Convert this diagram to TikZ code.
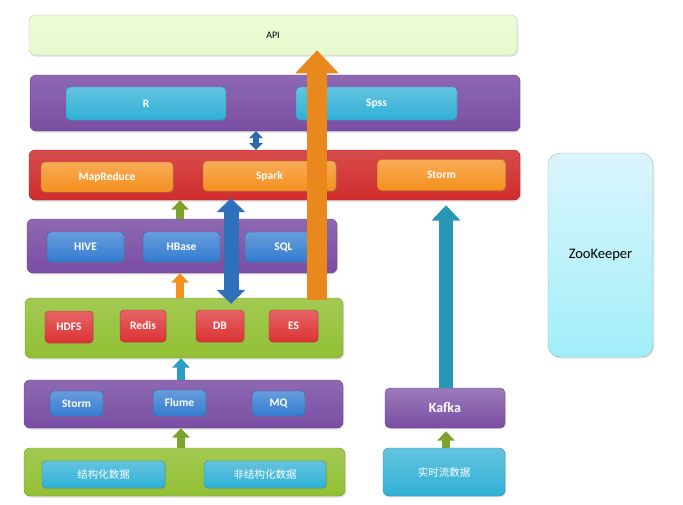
\documentclass[tikz,border=0pt]{standalone}
\usepackage{fontspec}
\setmainfont{Carlito}
\newfontfamily\cjk{Noto Sans CJK SC}
\usetikzlibrary{arrows.meta, shadows}
\definecolor{layerpurple}{RGB}{122, 78, 164}
\definecolor{layerred}{RGB}{208, 44, 44}
\definecolor{layergreen}{RGB}{146, 192, 52}
\definecolor{apigreen}{RGB}{232, 250, 206}
\definecolor{itemcyan}{RGB}{48, 176, 214}
\definecolor{itemorange}{RGB}{245, 144, 30}
\definecolor{itemblue}{RGB}{52, 124, 208}
\definecolor{itemred}{RGB}{220, 50, 50}
\definecolor{zkcyan}{RGB}{190, 236, 248}

\begin{document}
\begin{tikzpicture}[
    x=1pt, y=-1pt,
    layer/.style={rectangle, rounded corners=6pt, draw=#1!80!black, top color=#1!85!white, bottom color=#1, inner sep=0pt, drop shadow={opacity=0.25, shadow xshift=1pt, shadow yshift=-1.5pt}},
    item/.style={rectangle, rounded corners=4pt, draw=#1!80!black, top color=#1!75!white, bottom color=#1, inner sep=0pt, text=white, font=\bfseries\fontsize{11.5}{13}\selectfont, drop shadow={opacity=0.3, shadow xshift=1pt, shadow yshift=-1pt}},
    bigarrow/.style={line width=#1, draw},
    tipone/.style={-{Triangle[width=#1, length=0.55*#1]}},
]
    \useasboundingbox (0,0) rectangle (683,504);

    % layers
    \node[layer=apigreen, draw=apigreen!60!gray, minimum width=488pt, minimum height=40pt, font=\fontsize{10}{12}\selectfont] (api) at (273,35) {API};
    \node[layer=layerpurple, minimum width=490pt, minimum height=56pt] (analysis) at (275,103) {};
    \node[layer=layerred, minimum width=491pt, minimum height=50pt] (compute) at (274.5,175) {};
    \node[layer=layerpurple, minimum width=310pt, minimum height=54pt] (query) at (182,246) {};
    \node[layer=layergreen, minimum width=318pt, minimum height=60pt] (storage) at (184,328) {};
    \node[layer=layerpurple, minimum width=319pt, minimum height=48pt] (collect) at (183.5,404) {};
    \node[layer=layergreen, minimum width=321pt, minimum height=48pt] (source) at (184.5,472) {};
    \node[item=layerpurple, rounded corners=5pt, minimum width=120pt, minimum height=40pt, font=\bfseries\fontsize{14}{16}\selectfont] (kafka) at (445,408) {Kafka};
    \node[item=itemcyan, rounded corners=6pt, minimum width=122pt, minimum height=48pt, font=\cjk\fontsize{10.5}{12}\selectfont] (stream) at (444,472) {实时流数据};
    \node[layer=zkcyan, draw=zkcyan!50!gray, top color=zkcyan!55!white, bottom color=zkcyan!85!cyan, rounded corners=12pt, minimum width=105pt, minimum height=204pt, font=\fontsize{14.5}{16}\selectfont] (zk) at (600.5,255) {ZooKeeper};

    % items
    \node[item=itemcyan, minimum width=160pt, minimum height=33pt] (r) at (146,103.5) {R};
    \node[item=itemcyan, minimum width=161pt, minimum height=33pt] (spss) at (376.5,103.5) {Spss};
    \node[item=itemorange, minimum width=132pt, minimum height=30pt] (mapreduce) at (107,177) {MapReduce};
    \node[item=itemorange, minimum width=133pt, minimum height=30pt] (spark) at (269.5,176) {Spark};
    \node[item=itemorange, minimum width=128pt, minimum height=31pt] (stormrt) at (441.5,175) {Storm};
    \node[item=itemblue, minimum width=77pt, minimum height=30pt] (hive) at (85.5,247) {HIVE};
    \node[item=itemblue, minimum width=77pt, minimum height=30pt] (hbase) at (181.5,247) {HBase};
    \node[item=itemblue, minimum width=77pt, minimum height=30pt] (sql) at (283.5,247) {SQL};
    \node[item=itemred, minimum width=48pt, minimum height=32pt] (hdfs) at (69,327) {HDFS};
    \node[item=itemred, minimum width=46pt, minimum height=32pt] (redis) at (143,326) {Redis};
    \node[item=itemred, minimum width=48pt, minimum height=32pt] (db) at (220,326) {DB};
    \node[item=itemred, minimum width=49pt, minimum height=32pt] (es) at (293.5,326) {ES};
    \node[item=itemblue, minimum width=53pt, minimum height=25pt] (storm) at (76.5,403.5) {Storm};
    \node[item=itemblue, minimum width=53pt, minimum height=26pt] (flume) at (179.5,403) {Flume};
    \node[item=itemblue, minimum width=53pt, minimum height=25pt] (mq) at (278.5,403.5) {MQ};
    \node[item=itemcyan, minimum width=123pt, minimum height=27pt, font=\cjk\fontsize{10.5}{12}\selectfont] (struct) at (103.5,474.5) {结构化数据};
    \node[item=itemcyan, minimum width=122pt, minimum height=27pt, font=\cjk\fontsize{10.5}{12}\selectfont] (unstruct) at (265,474.5) {非结构化数据};

    % arrows
    \draw[bigarrow=6pt, itemblue!85!black, {Triangle[width=14pt, length=7pt]}-{Triangle[width=14pt, length=7pt]}] (analysis.south -| 256,0) -- (compute.north -| 256,0);
    \draw[bigarrow=8pt, layergreen!85!black, tipone=17pt] (query.north -| 180,0) -- (compute.south -| 180,0);
    \draw[bigarrow=8pt, itemorange, tipone=17pt] (storage.north -| 180,0) -- (query.south -| 180,0);
    \draw[bigarrow=8pt, itemcyan!90!black, tipone=17pt] (collect.north -| 181,0) -- (storage.south -| 181,0);
    \draw[bigarrow=8pt, layergreen!85!black, tipone=17pt] (source.north -| 181,0) -- (collect.south -| 181,0);
    \draw[bigarrow=8pt, layergreen!85!black, tipone=17pt] (stream.north -| 446,0) -- ([yshift=-3pt]kafka.south -| 446,0);
    \draw[bigarrow=14pt, itemcyan!85!black, tipone=28pt] (kafka.north -| 446,0) -- ([yshift=-5pt]compute.south -| 446,0);
    \draw[bigarrow=15pt, itemblue!90!black, {Triangle[width=28pt, length=14pt]}-{Triangle[width=28pt, length=14pt]}] ([yshift=2pt]compute.south -| 231,0) -- ([yshift=-6pt]storage.north -| 231,0);
    \draw[bigarrow=20pt, itemorange!95!black, tipone=42pt] ([yshift=-2pt]storage.north -| 317,0) -- ([yshift=5pt]api.south -| 317,0);
\end{tikzpicture}
\end{document}
